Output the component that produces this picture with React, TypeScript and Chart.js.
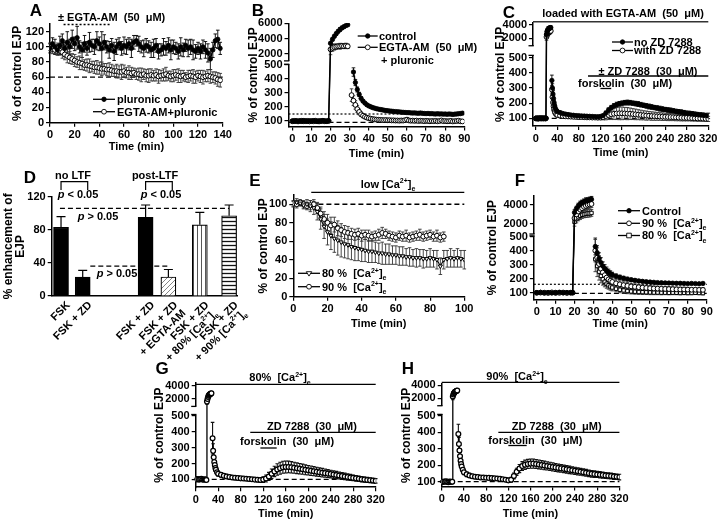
import React, { useEffect, useRef } from 'react';
import { Chart, registerables, LinearScale } from 'chart.js';

Chart.register(...registerables);

const FF = '"Liberation Sans", Arial, Helvetica, sans-serif';
const W = 719;
const H = 521;

// ---------------- DATA ----------------
// Panel A
const A_time = [0,2,4,6,8,10,12,14,16,18,20,22,24,26,28,30,32,34,36,38,40,42,44,46,48,50,52,54,56,58,60,62,64,66,68,70,72,74,76,78,80,82,84,86,88,90,92,94,96,98,100,102,104,106,108,110,112,114,116,118,120,122,124,126,128,130,132,134,136,138];
const A_pluronic = [98,104,100,96,102,108,98,106,100,110, 104,112,100,96,104,98,106,102,100,108, 104,98,106,100,96,102,94,100,104,98, 102,100,104,98,106,108,104,100,98,102, 100,96,98,102,94,96,100,98,102,96, 100,98,94,100,96,102,98,100,96,94, 98,94,100,96,92,84,96,108,110,98];
const A_pluronicErr = [6,8,10,7,12,9,8,14,10,12, 9,15,8,10,11,9,13,8,10,12, 9,22,10,8,11,9,12,10,8,9, 11,10,8,12,9,7,10,8,11,9, 8,10,12,9,10,8,11,9,10,13, 9,8,10,12,9,8,11,10,13,9, 8,10,9,11,12,14,10,9,12,8];
const A_egta = [100,97,96,98,95,93,90,88,86,84, 82,80,79,78,76,76,75,74,73,73, 72,71,71,70,70,69,68,68,67,67, 68,66,66,65,66,64,64,63,64,62, 62,63,62,63,61,62,63,64,62,61, 62,63,62,61,62,60,61,62,61,60, 62,61,60,61,62,61,60,59,57,56];
const A_egtaErr = [5,6,5,7,6,8,7,9,8,7, 8,7,9,8,7,8,9,7,8,9, 8,9,7,8,9,8,7,9,8,10, 8,7,9,8,6,7,8,9,7,8, 9,8,7,8,9,7,8,9,6,7, 8,7,9,8,7,6,8,7,9,8, 7,8,9,7,8,9,7,8,9,9];
const A_xTicks = [0,20,40,60,80,100,120,140];
const A_yTicks = [0,20,40,60,80,100,120];

// Panel B
const B_time = [0,1,2,3,4,5,6,7,8,9,10,11,12,13,14,15,16,17,18,19,20,21,22,23,24,25,26,27,28,29,30,31,32,33,34,35,36,37,38,39,40,41,42,43,44,45,46,47,48,49,50,51,52,53,54,55,56,57,58,59,60,61,62,63,64,65,66,67,68,69,70,71,72,73,74,75,76,77,78,79,80,81,82,83,84,85,86,87,88,89];
const B_control = [100,98,102,99,101,97,103,100,98,101,99,102,100,97,101,99,103,100,98, 102, 3400,3900,4300,4650,4950,5200,5400,5550,5700,5800, null,null, 450,375,325,290,262,242,228,216,208, 202,196,192,188,185,182,180,177,175,173, 171,170,168,167,166,165,163,162,161,160, 160,158,157,158,156,155,157,155,154,153, 154,152,153,151,150,152,150,151,149,150, 148,150,149,147,149,150,152,153,156];
const B_controlErr = [4,5,3,6,4,5,3,4,6,5,4,3,5,4,6,4,5,3,4,5, 150,200,180,220,200,250,220,200,180,150, 0,0, 30,22,18,15,12,10,9,8,8,7, 7,6,7,6,8,6,7,6,7,6, 8,7,6,7,6,8,7,6,7,9, 6,7,8,6,7,6,8,7,6,7, 8,6,7,6,8,7,6,7,8,7, 6,7,8,6,7,9,8,10];
const B_egta = [98,101,99,97,100,102,98,99,101,97,100,98,102,99,97,100,101,98,99, 100, 2600,2800,2900,2950,3000,3000,3050,3000,3050,3000, null, 285,245,215,185,165,148,138,130,124,120, 117,114,112,110,109,108,107,106,107,105, 106,104,105,103,104,102,104,103,106,110, 104,102,103,101,103,100,102,101,99,101, 100,98,100,99,101,98,100,104,99,100, 98,99,101,97,99,100,102,98,97];
const B_egtaErr = [5,4,6,5,4,6,5,4,5,6,4,5,6,4,5,5,4,6,5,4, 700,450,400,350,300,380,320,300,350,300, 0, 45,35,30,25,20,16,14,12,11,10, 9,10,8,9,10,8,9,8,10,9, 8,9,10,8,9,8,9,10,12,14, 9,8,10,9,8,10,9,8,9,10, 8,9,10,8,9,8,10,9,8,9, 10,8,9,8,9,10,8,9,8];
const B_xTicks = [0,10,20,30,40,50,60,70,80,90];
const B_yTicks = [100,200,300,400,500,2000,4000,6000];

// Panels C, G, H share the sampling times
const LONG_time = [0,2,4,6,8,10,12,14,16,18,19,20,21,22,23,24,25,26,27,28,29,30,31,32,33,34,35,36,38,40,45,50,55,60,65,70,75,80,85,90,95,100,105,110,115,120,125,130,135,140,145,150,155,160,165,170,175,180,185,190,195,200,205,210,215,220,225,230,235,240,245,250,255,260,265,270,275,280,285,290,295,300,305,310,315,320];
const C_noZD = [100,98,102,97,101,99,103,98,100,101, 100, 2600,3000,3200,3300,3400,3450,3500,3550,3600, null, 350,300,260,230,205,185,170,155,145, 138,132,128,125,122,120,118,117,116,115, 114,113,112,111,110,112,118,135,155,170, 182,190,196,200,203,204,203,200,197,194, 190,186,182,178,175,171,168,164,161,158, 155,152,149,146,143,140,137,134,132,129, 127,125,122,120,118,116];
const C_noZDErr = [5,6,4,7,5,6,4,5,6,5, 5, 400,350,300,400,350,300,350,300,250, 0, 35,28,22,18,15,13,12,11,10, 10,9,10,9,8,9,10,9,8,9, 10,9,8,9,10,9,10,12,14,15, 15,16,15,14,15,16,15,14,15,16, 15,14,15,16,15,14,15,16,15,14, 15,16,15,14,15,16,15,14,15,16, 15,14,15,16,15,18];
const C_withZD = [99,101,97,100,102,98,100,99,101,98, 100, 2200,2500,2700,2800,2900,2950,3000,3050,3100, null, 290,240,205,180,160,148,138,128,122, 118,115,113,112,111,110,109,108,108,107, 106,106,105,105,104,105,108,115,122,127, 130,132,133,133,132,131,130,128,126,124, 122,120,118,117,115,114,113,112,111,110, 109,108,107,106,105,104,103,103,102,101, 100,99,99,98,97,96];
const C_withZDErr = [6,5,7,5,6,4,7,5,6,5, 5, 500,450,400,350,400,350,400,350,300, 0, 60,45,35,30,25,20,18,16,15, 14,13,12,12,11,12,11,12,11,12, 12,11,12,11,12,14,18,25,30,35, 38,40,42,42,40,40,38,36,35,33, 32,30,30,28,28,27,26,25,25,24, 24,23,22,22,21,21,20,20,19,19, 18,18,18,17,17,17];
const LONG_xTicks = [0,40,80,120,160,200,240,280,320];
const LONG_yTicks = [100,200,300,400,500,2000,4000];

// Panel D
const D_labels = [['FSK'], ['FSK + ZD'], ['FSK + ZD'], ['FSK + ZD', '+ EGTA-AM'], ['FSK + ZD', '+ 80% [Ca^2+^]_e_'], ['FSK + ZD', '+ 90% [Ca^2+^]_e_']];
const D_slot = [1, 2, 4.9, 5.95, 7.4, 8.75];
const D_values = [83, 23, 95, 23, 86, 97];
const D_err = [13, 8, 15, 9, 15, 13];
const D_yTicks = [0, 40, 80, 120];

// Panel E
const E_time = [0,2,4,6,8,10,12,14,16,18,20,22,24,26,28,30,32,34,36,38,40,42,44,46,48,50,52,54,56,58,60,62,64,66,68,70,72,74,76,78,80,82,84,86,88,90,92,94,96,98,100];
const E_80 = [100,102,101,99,100,98,96,92,84,76, 70,66,63,61,59,57,56,54,53,52, 51,50,49,49,48,47,47,46,46,45, 45,44,44,43,43,42,42,42,41,41, 42,41,40,33,40,41,42,41,42,41, 40];
const E_80Err = [3,4,3,4,5,6,7,9,11,13, 14,15,15,16,16,15,15,14,14,13, 13,12,12,12,11,11,12,11,11,10, 10,10,10,9,10,9,10,9,10,9, 10,9,10,9,10,9,10,9,10,9, 10];
const E_90 = [101,100,102,100,98,99,100,96,90,84, 80,77,78,74,72,70,69,68,67,68, 66,67,66,65,66,67,69,68,66,65, 64,66,65,66,64,65,66,67,65,66, 67,65,66,64,65, null,null,null,null,null, null];
const E_90Err = [3,4,3,4,4,5,5,6,7,8, 9,9,8,8,7,7,7,6,6,6, 6,5,6,5,5,6,6,5,5,5, 5,5,5,6,5,5,5,6,5,5, 5,5,6,5,5, 0,0,0,0,0, 0];
const E_xTicks = [0,20,40,60,80,100];
const E_yTicks = [0,20,40,60,80,100];

// Panel F
const F_time = [0,2,4,6,8,10,12,14,16,18,19,20,21,22,23,24,25,26,27,28,29,30,31,32,33,34,35,36,37,38,39,40,42,44,46,48,50,52,54,56,58,60,62,64,66,68,70,72,74,76,78,80,82,84,86,88];
const F_control = [100,102,99,101,98,100,103,99,101,100, 100, 3200,3600,3900,4100,4250,4350,4450,4500,4550,4600, null, 430,385,345,315,290,272,258,246,236,228, 218,210,203,197,192,188,184,181,178,176, 174,172,171,170,169,168,167,167,166,165, 166,165,164,166];
const F_controlErr = [4,5,4,6,5,4,5,6,4,5, 5, 300,250,280,300,260,280,300,250,280,300, 0, 60,50,40,35,30,28,25,22,20,18, 16,15,14,13,12,12,11,11,10,10, 10,9,9,9,9,8,8,8,8,8, 8,8,8,8];
const F_90 = [99,101,100,98,102,100,99,101,98,100, 100, 2600,3000,3300,3500,3650,3800,3900,4000,4050,4100, null, 400,350,305,270,245,225,208,195,185,177, 167,160,154,149,145,142,139,136,134,132, 130,129,128,127,126,125,124,123,123,122, 121,121,120,120];
const F_90Err = [5,6,5,4,6,5,4,6,5,4, 5, 500,450,450,400,400,420,400,380,400,380, 0, 80,70,60,50,45,40,36,33,30,28, 26,25,24,23,22,21,20,20,19,19, 18,18,18,17,17,17,16,16,16,16, 15,15,15,15];
const F_80 = [101,99,98,100,101,97,100,102,99,100, 100, 2200,2500,2700,2850,2950,3000,3050,3100,3100,3150, null, 340,290,250,220,196,178,164,153,144,137, 128,121,116,112,109,107,105,104,103,102, 101,101,100,100,99,100,99,98,99,98, 98,99,98,97];
const F_80Err = [6,5,4,6,5,6,5,4,6,5, 5, 450,400,380,400,380,360,380,400,380,360, 0, 90,75,60,50,42,36,32,28,26,24, 22,21,20,19,18,18,17,17,16,16, 15,15,15,14,14,14,13,13,13,13, 12,12,12,12];
const F_xTicks = [0,10,20,30,40,50,60,70,80,90];
const F_yTicks = [100,200,300,400,500,2000,4000];

// Panel G (80% Ca) and H (90% Ca)
const G_vals = [102,99,101,98,100,103,99,97,100,98, 96, 1600,2000,2300,2500,2600,2700,2750,2800,2850, null, 360,280,240,210,190,172,160,145,135, 128,122,118,115,112,110,108,106,105,104, 102,100,98,97,96,98,105,118,135,150, 162,170,176,178,178,176,173,170,167,164, 160,157,154,151,148,145,142,139,136,133, 130,127,124,121,118,115,112,109,106,103, 100,98,96,94,92,90];
const G_err = [5,6,5,4,6,5,7,5,6,5, 5, 400,350,300,350,300,300,280,300,280, 0, 100,45,35,28,24,20,18,16,15, 14,13,13,12,12,12,11,11,11,11, 11,11,12,13,15,18,22,26,30,33, 36,38,38,38,37,36,35,34,33,32, 31,30,30,29,28,27,27,26,25,24, 24,23,22,21,21,20,19,18,18,17, 17,16,16,15,15,14];
const H_vals = [100,98,101,99,102,100,97,101,99,100, 100, 2300,2600,2800,2900,3000,3050,3100,3150,3200, null, 390,330,290,255,228,208,192,172,158, 145,138,133,130,128,126,125,124,123,122, 120,119,117,115,112,108,112,135,160,180, 195,203,208,210,210,208,205,202,199,196, 193,190,187,184,181,178,175,172,169,166, 163,160,157,154,151,148,146,144,142,140, 138,136,134,132,130,128];
const H_err = [5,4,6,5,4,6,5,4,5,6, 5, 500,450,400,350,350,300,300,280,300, 0, 60,40,30,25,22,20,18,16,15, 14,13,12,12,11,11,11,10,10,10, 10,10,10,10,11,12,15,18,22,25, 27,28,28,28,28,27,27,26,26,25, 25,25,24,24,24,23,23,23,22,22, 22,21,21,21,20,20,20,19,19,19, 18,18,18,18,17,17];

// ---------------- broken (two-segment) y scale ----------------
const BREAKS: Record<string, any> = {
  B: { lowMax: 500, highMin: 1200, lowFrac: 0.596, gapFrac: 0.048 },
  C: { lowMax: 510, highMin: 1000, lowFrac: 0.677, gapFrac: 0.109 },
  F: { lowMax: 500, highMin: 1000, lowFrac: 0.605, gapFrac: 0.033 },
  G: { lowMax: 505, highMin: 1000, lowFrac: 0.69, gapFrac: 0.093 },
  H: { lowMax: 505, highMin: 1000, lowFrac: 0.696, gapFrac: 0.1 },
};

class BrokenScale extends LinearScale {
  static id = 'broken';
  getPixelForValue(value: number) {
    const b = BREAKS[(this.options as any).brkId];
    const top = this.top, bottom = this.bottom, h = bottom - top;
    const lowTop = bottom - h * b.lowFrac;
    const highBottom = lowTop - h * b.gapFrac;
    if (value <= b.lowMax) return bottom - ((value - this.min) / (b.lowMax - this.min)) * (bottom - lowTop);
    if (value >= b.highMin) return highBottom - ((value - b.highMin) / (this.max - b.highMin)) * (highBottom - top);
    return lowTop - ((value - b.lowMax) / (b.highMin - b.lowMax)) * (lowTop - highBottom);
  }
  getValueForPixel() {
    return this.min;
  }
}
Chart.register(BrokenScale as any);

// ---------------- drawing helpers ----------------
function parseRich(s: string) {
  const runs: { t: string; m: string }[] = [];
  let mode = '';
  let buf = '';
  for (const ch of s) {
    if (ch === '^' || ch === '_' || ch === '*') {
      if (buf) runs.push({ t: buf, m: mode });
      buf = '';
      mode = mode === ch ? '' : ch;
    } else buf += ch;
  }
  if (buf) runs.push({ t: buf, m: mode });
  return runs;
}

function rich(ctx: CanvasRenderingContext2D, s: string, x: number, yMid: number, size = 11, align = 'left') {
  const runs = parseRich(s);
  const font = (m: string) => `${m === '*' ? 'italic ' : ''}bold ${m === '^' || m === '_' ? Math.round(size * 0.68) : size}px ${FF}`;
  let w = 0;
  for (const r of runs) {
    ctx.font = font(r.m);
    w += ctx.measureText(r.t).width;
  }
  let cx = align === 'left' ? x : align === 'center' ? x - w / 2 : x - w;
  const base = yMid + size * 0.36;
  ctx.save();
  ctx.fillStyle = '#000';
  ctx.textAlign = 'left';
  ctx.textBaseline = 'alphabetic';
  for (const r of runs) {
    ctx.font = font(r.m);
    const dy = r.m === '^' ? -size * 0.42 : r.m === '_' ? size * 0.28 : 0;
    ctx.fillText(r.t, cx, base + dy);
    cx += ctx.measureText(r.t).width;
  }
  ctx.restore();
  return w;
}

function seg(ctx: CanvasRenderingContext2D, x0: number, y0: number, x1: number, y1: number, dash: number[] = [], w = 1.2, color = '#000') {
  ctx.save();
  ctx.strokeStyle = color;
  ctx.lineWidth = w;
  ctx.setLineDash(dash);
  ctx.beginPath();
  ctx.moveTo(x0, y0);
  ctx.lineTo(x1, y1);
  ctx.stroke();
  ctx.restore();
}

function marker(ctx: CanvasRenderingContext2D, x: number, y: number, kind: string) {
  ctx.save();
  ctx.lineWidth = 0.9;
  ctx.strokeStyle = '#000';
  ctx.fillStyle = kind === 'filled' ? '#000' : '#fff';
  ctx.beginPath();
  if (kind === 'openRect') ctx.rect(x - 2.3, y - 2.3, 4.6, 4.6);
  else if (kind === 'openTri') {
    ctx.moveTo(x - 2.7, y - 1.6);
    ctx.lineTo(x + 2.7, y - 1.6);
    ctx.lineTo(x, y + 2.8);
    ctx.closePath();
  } else ctx.arc(x, y, kind === 'filled' ? 2.2 : 2.4, 0, Math.PI * 2);
  ctx.fill();
  ctx.stroke();
  ctx.restore();
}

function legendRow(ctx: CanvasRenderingContext2D, x0: number, x1: number, y: number, kind: string, label: string, tx: number) {
  seg(ctx, x0, y, x1, y, [], 1.3);
  marker(ctx, (x0 + x1) / 2, y, kind);
  rich(ctx, label, tx, y, 11);
}

function drawBreak(chart: any) {
  const s = chart.scales.y;
  const b = BREAKS[s.options.brkId];
  const x = chart.chartArea.left;
  const yLow = s.getPixelForValue(b.lowMax);
  const yHigh = s.getPixelForValue(b.highMin);
  const ctx = chart.ctx as CanvasRenderingContext2D;
  ctx.save();
  ctx.clearRect(x - 2.5, yHigh + 0.8, 5, yLow - yHigh - 1.6);
  ctx.restore();
  seg(ctx, x - 4.5, yHigh + 0.8, x + 0.8, yHigh + 0.8, [], 1.3);
  seg(ctx, x - 4.5, yLow - 0.8, x + 0.8, yLow - 0.8, [], 1.3);
}

function drawErrors(chart: any, front: boolean) {
  const ctx = chart.ctx as CanvasRenderingContext2D;
  chart.data.datasets.forEach((ds: any, di: number) => {
    if (!ds.errors || !!ds.errFront !== front) return;
    const meta = chart.getDatasetMeta(di);
    const ys = chart.scales[meta.yAxisID];
    ctx.save();
    ctx.strokeStyle = ds.errColor || '#000';
    ctx.lineWidth = ds.errWidth || 0.9;
    const cap = ds.errCap ?? 1.8;
    meta.data.forEach((el: any, i: number) => {
      const raw = ds.data[i];
      const e = ds.errors[i];
      if (!raw || raw.y == null || !e) return;
      const x = el.x;
      const yTop = ys.getPixelForValue(raw.y + e);
      const yBot = ys.getPixelForValue(ds.errUpOnly ? raw.y : raw.y - e);
      ctx.beginPath();
      ctx.moveTo(x, yBot);
      ctx.lineTo(x, yTop);
      ctx.moveTo(x - cap, yTop);
      ctx.lineTo(x + cap, yTop);
      if (!ds.errUpOnly) {
        ctx.moveTo(x - cap, yBot);
        ctx.lineTo(x + cap, yBot);
      }
      ctx.stroke();
    });
    ctx.restore();
  });
}

const errPlugin = {
  id: 'errbars',
  beforeDatasetsDraw(chart: any) {
    drawErrors(chart, false);
  },
  afterDatasetsDraw(chart: any) {
    drawErrors(chart, true);
  },
};

function decor(under: ((c: any) => void) | null, over: ((c: any) => void) | null) {
  return {
    id: 'decor',
    beforeDatasetsDraw(chart: any) {
      if (under) {
        chart.ctx.save();
        under(chart);
        chart.ctx.restore();
      }
    },
    afterDraw(chart: any) {
      if (over) {
        chart.ctx.save();
        over(chart);
        chart.ctx.restore();
      }
    },
  };
}

// ---------------- chart config builders ----------------
const TICK_FONT = { family: FF, size: 11, weight: 'bold' as const };
const Y_TITLE_FONT = { family: FF, size: 12, weight: 'bold' as const, lineHeight: 1.2 };
const X_TITLE_FONT = { family: FF, size: 11, weight: 'bold' as const, lineHeight: 1.2 };

function geom(L: number, T: number, R: number, B: number, yTitleX: number, xTitleY: number, yLh = 14.4, xLh = 13.2) {
  const padL = yTitleX - yLh / 2;
  const xh = xTitleY + xLh / 2 - B;
  return { L, T, R, B, padL, yw: L - padL, xh, padB: H - B - xh };
}

const axisLook = () => ({
  grid: { drawOnChartArea: false, drawTicks: true, tickLength: 4, color: '#000', lineWidth: 1.2 },
  border: { color: '#000', width: 1.5 },
});

function xAx(min: number, max: number, ticks: number[], g: any, title: string) {
  return {
    type: 'linear',
    min,
    max,
    afterBuildTicks: (s: any) => {
      s.ticks = ticks.map((v) => ({ value: v }));
    },
    afterFit: (s: any) => {
      s.height = g.xh;
      s.paddingLeft = 0;
      s.paddingRight = 0;
    },
    ticks: { callback: (v: any) => String(v), font: TICK_FONT, color: '#000', padding: 2, autoSkip: false, maxRotation: 0, minRotation: 0 },
    ...axisLook(),
    title: { display: true, text: title, font: X_TITLE_FONT, color: '#000', padding: 0 },
  };
}

function yAx(type: string, min: number, max: number, ticks: number[], g: any, title: any, extra: any = {}, titleFont: any = Y_TITLE_FONT) {
  return {
    type,
    min,
    max,
    ...extra,
    afterBuildTicks: (s: any) => {
      s.ticks = ticks.map((v) => ({ value: v }));
    },
    afterFit: (s: any) => {
      s.width = g.yw;
      s.paddingTop = 0;
      s.paddingBottom = 0;
    },
    ticks: { callback: (v: any) => String(v), font: TICK_FONT, color: '#000', padding: 2, autoSkip: false },
    ...axisLook(),
    title: { display: true, text: title, font: titleFont, color: '#000', padding: 0 },
  };
}

function opts(g: any, scales: any) {
  return {
    responsive: false,
    maintainAspectRatio: false,
    animation: false,
    events: [],
    layout: { padding: { left: g.padL, top: g.T, right: W - g.R, bottom: g.padB } },
    plugins: { legend: { display: false }, tooltip: { enabled: false }, title: { display: false } },
    scales,
  };
}

function lineDS(times: number[], vals: (number | null)[], errs: number[], kind: string) {
  const open = kind !== 'filled';
  return {
    data: times.map((t, i) => ({ x: t, y: vals[i] })),
    errors: errs,
    errColor: open ? '#333' : '#000',
    borderColor: '#000',
    borderWidth: open ? 1.1 : 1.5,
    pointRadius: open ? 2.4 : 2.2,
    pointStyle: kind === 'openRect' ? 'rect' : kind === 'openTri' ? 'triangle' : 'circle',
    pointRotation: kind === 'openTri' ? 180 : 0,
    pointBackgroundColor: open ? '#fff' : '#000',
    pointBorderColor: '#000',
    pointBorderWidth: open ? 1 : 0.8,
    spanGaps: false,
    tension: 0,
  };
}

const X = (c: any) => (v: number) => c.scales.x.getPixelForValue(v);
const Y = (c: any) => (v: number) => c.scales.y.getPixelForValue(v);

// ---------------- panels ----------------
function panelA() {
  const g = geom(50, 24.1, 222.7, 122.7, 18, 146.7);
  return {
    type: 'line',
    data: { datasets: [lineDS(A_time, A_pluronic, A_pluronicErr, 'filled'), lineDS(A_time, A_egta, A_egtaErr, 'open')] },
    options: opts(g, { x: xAx(0, 140, A_xTicks, g, 'Time (min)'), y: yAx('linear', 0, 130, A_yTicks, g, '% of control EJP') }),
    plugins: [
      decor(
        (c) => seg(c.ctx, X(c)(0), Y(c)(60), X(c)(140), Y(c)(60), [5, 3], 1.3),
        (c) => {
          const ctx = c.ctx;
          rich(ctx, 'A', 36, 10, 17, 'center');
          rich(ctx, '± EGTA-AM  (50  μM)', 58, 16.7, 11);
          seg(ctx, X(c)(11), 24.5, X(c)(49), 24.5, [2, 2], 1.3);
          legendRow(ctx, 93, 115, 99.3, 'filled', 'pluronic only', 117);
          legendRow(ctx, 93, 115, 111.7, 'open', 'EGTA-AM+pluronic', 117);
        }
      ),
      errPlugin,
    ],
  };
}

function panelB() {
  const g = geom(288.5, 23.3, 464.3, 126.6, 254, 154);
  return {
    type: 'line',
    data: { datasets: [lineDS(B_time, B_control, B_controlErr, 'filled'), lineDS(B_time, B_egta, B_egtaErr, 'open')] },
    options: opts(g, { x: xAx(-2, 90, B_xTicks, g, 'Time (min)'), y: yAx('broken', 60, 6000, B_yTicks, g, '% of control EJP', { brkId: 'B' }) }),
    plugins: [
      decor(
        (c) => {
          seg(c.ctx, X(c)(-2), Y(c)(150), X(c)(90), Y(c)(150), [2, 2], 1.2);
          seg(c.ctx, X(c)(-2), Y(c)(90), X(c)(90), Y(c)(90), [5, 3], 1.3);
        },
        (c) => {
          const ctx = c.ctx;
          drawBreak(c);
          rich(ctx, 'B', 258, 10, 17, 'center');
          legendRow(ctx, 357.7, 377.7, 36, 'filled', 'control', 379);
          legendRow(ctx, 357.7, 377.7, 47.3, 'open', 'EGTA-AM  (50  μM)', 379);
          rich(ctx, '+ pluronic', 381, 60, 11);
        }
      ),
      errPlugin,
    ],
  };
}

function panelC() {
  const g = geom(533, 22.9, 708.3, 125.9, 501, 153.3);
  return {
    type: 'line',
    data: { datasets: [lineDS(LONG_time, C_noZD, C_noZDErr, 'filled'), lineDS(LONG_time, C_withZD, C_withZDErr, 'open')] },
    options: opts(g, { x: xAx(-5, 320, LONG_xTicks, g, 'Time (min)'), y: yAx('broken', 50, 4300, LONG_yTicks, g, '% of control EJP', { brkId: 'C' }) }),
    plugins: [
      decor(
        (c) => seg(c.ctx, X(c)(0), Y(c)(100), X(c)(320), Y(c)(100), [5, 3], 1.3),
        (c) => {
          const ctx = c.ctx;
          drawBreak(c);
          rich(ctx, 'C', 509, 12, 17, 'center');
          rich(ctx, 'loaded with EGTA-AM  (50  μM)', 623, 13.3, 11, 'center');
          seg(ctx, X(c)(-5), 21.7, X(c)(320), 21.7, [], 1.5, '#333');
          legendRow(ctx, 612, 633, 42, 'filled', 'no ZD 7288', 634);
          legendRow(ctx, 612, 633, 50.5, 'open', 'with ZD 7288', 634);
          rich(ctx, '± ZD 7288  (30  μM)', 648, 70.7, 11, 'center');
          seg(ctx, X(c)(97), 76, X(c)(320), 76, [], 1.3);
          rich(ctx, 'forskolin  (30  μM)', 578, 83.3, 11);
          seg(ctx, X(c)(120), 88.5, X(c)(140), 88.5, [], 1.3);
        }
      ),
      errPlugin,
    ],
  };
}

function makePattern(kind: string) {
  const size = kind === 'diag' ? 5 : 4;
  const cv = document.createElement('canvas');
  cv.width = size;
  cv.height = size;
  const g = cv.getContext('2d') as CanvasRenderingContext2D;
  g.fillStyle = '#fff';
  g.fillRect(0, 0, size, size);
  g.strokeStyle = kind === 'diag' ? '#777' : kind === 'vert' ? '#444' : '#111';
  g.lineWidth = kind === 'horiz' ? 1.3 : 0.9;
  g.beginPath();
  if (kind === 'diag') {
    g.moveTo(0, size);
    g.lineTo(size, 0);
    g.moveTo(-1, 1);
    g.lineTo(1, -1);
    g.moveTo(size - 1, size + 1);
    g.lineTo(size + 1, size - 1);
  } else if (kind === 'vert') {
    g.moveTo(1.5, 0);
    g.lineTo(1.5, size);
  } else {
    g.moveTo(0, 1.5);
    g.lineTo(size, 1.5);
  }
  g.stroke();
  return g.createPattern(cv, 'repeat');
}

function panelD() {
  const lh = 12.5;
  const padL = 8.3 - lh / 2;
  const g = { L: 51.7, T: 196.7, R: 238, B: 296, padL, yw: 51.7 - padL, xh: 60, padB: H - 296 - 60 };
  const fills = ['#000', '#000', '#000', makePattern('diag'), makePattern('vert'), makePattern('horiz')];
  return {
    type: 'bar',
    data: {
      datasets: [
        {
          data: D_slot.map((s, i) => ({ x: s, y: D_values[i] })),
          backgroundColor: fills,
          borderColor: '#000',
          borderWidth: 1.2,
          barThickness: 15,
          errors: D_err,
          errUpOnly: true,
          errFront: true,
          errCap: 4.5,
          errWidth: 1.2,
        },
      ],
    },
    options: opts(g, {
      x: {
        type: 'linear',
        min: 0.57,
        max: 9.16,
        offset: false,
        afterBuildTicks: (s: any) => {
          s.ticks = D_slot.map((v) => ({ value: v }));
        },
        afterFit: (s: any) => {
          s.height = g.xh;
          s.paddingLeft = 0;
          s.paddingRight = 0;
        },
        ticks: { display: false },
        grid: { display: false },
        border: { color: '#000', width: 1.5 },
      },
      y: yAx('linear', 0, 120, D_yTicks, g, ['% enhancement of', 'EJP'], {}, { family: FF, size: 12, weight: 'bold', lineHeight: lh / 12 }),
    }),
    plugins: [
      errPlugin,
      decor(null, (c) => {
        const ctx = c.ctx;
        const x = X(c);
        const y = Y(c);
        // rotated category labels, anchored at each bar through the x scale
        D_labels.forEach((lines, i) => {
          ctx.save();
          ctx.translate(x(D_slot[i]) + 4, 300);
          ctx.rotate(-Math.PI / 4);
          lines.forEach((ln, k) => rich(ctx, ln, 0, 4 + k * 11.5, 11, 'right'));
          ctx.restore();
        });
        rich(ctx, 'D', 30, 177, 17, 'center');
        rich(ctx, 'no LTF', 73, 175.5, 11, 'center');
        ctx.save();
        ctx.strokeStyle = '#000';
        ctx.lineWidth = 1.2;
        ctx.beginPath();
        ctx.moveTo(x(1), 190);
        ctx.lineTo(x(1), 181.7);
        ctx.lineTo(x(2.23), 181.7);
        ctx.lineTo(x(2.23), 190);
        ctx.moveTo(x(4.9), 190);
        ctx.lineTo(x(4.9), 181.7);
        ctx.lineTo(x(6.13), 181.7);
        ctx.lineTo(x(6.13), 190);
        ctx.stroke();
        ctx.restore();
        rich(ctx, 'post-LTF', 155, 175.5, 11, 'center');
        rich(ctx, '*p* < 0.05', 78, 194, 11, 'center');
        rich(ctx, '*p* < 0.05', 161, 194, 11, 'center');
        seg(ctx, x(0.95), y(106), x(8.75), y(106), [5, 3], 1.3);
        rich(ctx, '*p* > 0.05', 98, 216, 11, 'center');
        seg(ctx, x(2.35), y(36), x(6.0), y(36), [5, 3], 1.3);
        rich(ctx, '*p* > 0.05', 117, 273, 11, 'center');
      }),
    ],
  };
}

function panelE() {
  const g = geom(293.3, 195, 464.3, 296.7, 263.3, 324);
  return {
    type: 'line',
    data: { datasets: [lineDS(E_time, E_80, E_80Err, 'openTri'), lineDS(E_time, E_90, E_90Err, 'open')] },
    options: opts(g, { x: xAx(0, 100, E_xTicks, g, 'Time (min)'), y: yAx('linear', 0, 110, E_yTicks, g, '% of control EJP') }),
    plugins: [
      decor(
        (c) => seg(c.ctx, X(c)(10), Y(c)(100), X(c)(100), Y(c)(100), [5, 3], 1.3),
        (c) => {
          const ctx = c.ctx;
          rich(ctx, 'E', 255, 180, 17, 'center');
          rich(ctx, 'low [Ca^2+^]_e_', 388, 184, 11, 'center');
          seg(ctx, X(c)(10.5), 192.3, X(c)(100), 192.3, [], 1.3);
          legendRow(ctx, 298, 320, 273.3, 'openTri', '80 %  [Ca^2+^]_e_', 322);
          legendRow(ctx, 298, 320, 286.7, 'open', '90 %  [Ca^2+^]_e_', 322);
        }
      ),
      errPlugin,
    ],
  };
}

function panelF() {
  const g = geom(533.9, 195.5, 706.7, 299.7, 492.7, 324);
  return {
    type: 'line',
    data: {
      datasets: [lineDS(F_time, F_control, F_controlErr, 'filled'), lineDS(F_time, F_90, F_90Err, 'open'), lineDS(F_time, F_80, F_80Err, 'openRect')],
    },
    options: opts(g, { x: xAx(-1.5, 90, F_xTicks, g, 'Time (min)'), y: yAx('broken', 50, 5000, F_yTicks, g, '% of control EJP', { brkId: 'F' }) }),
    plugins: [
      decor(
        (c) => {
          seg(c.ctx, X(c)(-1.5), Y(c)(160), X(c)(90), Y(c)(160), [2, 2], 1.2);
          seg(c.ctx, X(c)(-1.5), Y(c)(95), X(c)(90), Y(c)(95), [5, 3], 1.3);
        },
        (c) => {
          const ctx = c.ctx;
          drawBreak(c);
          rich(ctx, 'F', 520, 180, 17, 'center');
          legendRow(ctx, 618, 640, 210.7, 'filled', 'Control', 642);
          legendRow(ctx, 618, 640, 223.3, 'open', '90 %  [Ca^2+^]_e_', 642);
          legendRow(ctx, 618, 640, 235.5, 'openRect', '80 %  [Ca^2+^]_e_', 642);
        }
      ),
      errPlugin,
    ],
  };
}

function darkOpen(ds: any) {
  ds.errColor = '#111';
  ds.errWidth = 1.1;
  ds.pointBorderWidth = 1.25;
  ds.borderWidth = 1.3;
  return ds;
}

function panelG() {
  const g = geom(195.7, 383, 375.7, 487.2, 160, 514.3);
  const ds: any = darkOpen(lineDS(LONG_time, G_vals, G_err, 'open'));
  return {
    type: 'line',
    data: { datasets: [ds] },
    options: opts(g, { x: xAx(0, 320, LONG_xTicks, g, 'Time (min)'), y: yAx('broken', 50, 4400, LONG_yTicks, g, '% of control EJP', { brkId: 'G' }) }),
    plugins: [
      decor(
        (c) => seg(c.ctx, X(c)(0), Y(c)(100), X(c)(320), Y(c)(100), [5, 3], 1.3),
        (c) => {
          const ctx = c.ctx;
          drawBreak(c);
          rich(ctx, 'G', 162, 368, 17, 'center');
          rich(ctx, '80%  [Ca^2+^]_e_', 280, 377.5, 11, 'center');
          seg(ctx, X(c)(0), 384.3, X(c)(320), 384.3, [], 1.3);
          rich(ctx, 'ZD 7288  (30  μM)', 312, 426, 11, 'center');
          seg(ctx, X(c)(97), 432.3, X(c)(320), 432.3, [], 1.3);
          rich(ctx, 'forskolin  (30  μM)', 240, 441.5, 11);
          seg(ctx, X(c)(115), 448, X(c)(144), 448, [], 1.3);
        }
      ),
      errPlugin,
    ],
  };
}

function panelH() {
  const g = geom(441.7, 384, 619.4, 486.6, 406.7, 514.3);
  const ds: any = darkOpen(lineDS(LONG_time, H_vals, H_err, 'open'));
  return {
    type: 'line',
    data: { datasets: [ds] },
    options: opts(g, { x: xAx(0, 320, LONG_xTicks, g, 'Time (min)'), y: yAx('broken', 70, 4200, LONG_yTicks, g, '% of control EJP', { brkId: 'H' }) }),
    plugins: [
      decor(
        (c) => seg(c.ctx, X(c)(0), Y(c)(100), X(c)(320), Y(c)(100), [5, 3], 1.3),
        (c) => {
          const ctx = c.ctx;
          drawBreak(c);
          rich(ctx, 'H', 408, 368, 17, 'center');
          rich(ctx, '90%  [Ca^2+^]_e_', 517, 376.5, 11, 'center');
          seg(ctx, X(c)(0), 382.3, X(c)(320), 382.3, [], 1.3);
          rich(ctx, 'ZD 7288  (30  μM)', 511.7, 426, 11);
          seg(ctx, X(c)(102), 432.3, X(c)(320), 432.3, [], 1.3);
          rich(ctx, 'forskolin  (30  μM)', 488.3, 440, 11);
          seg(ctx, X(c)(120), 445.5, X(c)(153), 445.5, [], 1.3);
        }
      ),
      errPlugin,
    ],
  };
}

const PANELS = [panelA, panelB, panelC, panelD, panelE, panelF, panelG, panelH];

export default function App() {
  const refs = useRef<(HTMLCanvasElement | null)[]>([]);
  useEffect(() => {
    Chart.defaults.font.family = FF;
    const charts = PANELS.map((mk, i) => new Chart(refs.current[i] as HTMLCanvasElement, mk() as any));
    return () => charts.forEach((c) => c.destroy());
  }, []);
  return (
    <div style={{ position: 'fixed', left: 0, top: 0, width: W, height: H, background: '#fff', overflow: 'hidden' }}>
      {PANELS.map((_, i) => (
        <canvas
          key={i}
          ref={(el) => {
            refs.current[i] = el;
          }}
          width={W}
          height={H}
          style={{ position: 'absolute', left: 0, top: 0, width: W, height: H }}
        />
      ))}
    </div>
  );
}
